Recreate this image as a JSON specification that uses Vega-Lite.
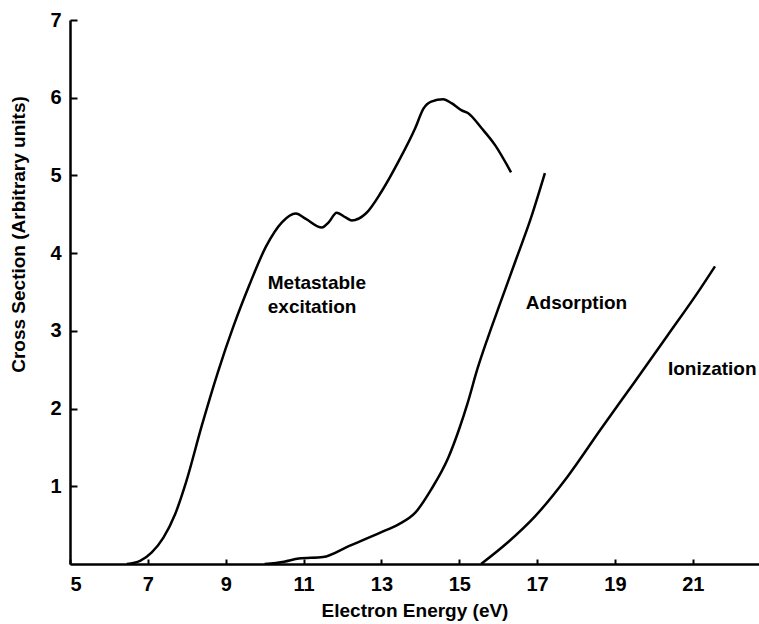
{
  "$schema": "https://vega.github.io/schema/vega-lite/v6.json",
  "width": 689,
  "height": 544,
  "autosize": {"type": "none"},
  "padding": {"left": 70, "top": 20, "right": 0, "bottom": 60},
  "background": "white",
  "config": {
    "view": {"stroke": null},
    "font": "Liberation Sans",
    "axis": {
      "grid": false,
      "domainColor": "black",
      "domainWidth": 2.5,
      "tickColor": "black",
      "tickWidth": 2,
      "labelFont": "Liberation Sans",
      "labelFontSize": 20,
      "labelFontWeight": "bold",
      "labelColor": "black",
      "titleFont": "Liberation Sans",
      "titleFontSize": 19,
      "titleFontWeight": "bold",
      "titleColor": "black"
    }
  },
  "datasets": {
    "curves": [
      {"s": "Metastable", "x": 6.46, "y": 0},
      {"s": "Metastable", "x": 6.8, "y": 0.04},
      {"s": "Metastable", "x": 7.1, "y": 0.15},
      {"s": "Metastable", "x": 7.4, "y": 0.34},
      {"s": "Metastable", "x": 7.7, "y": 0.64},
      {"s": "Metastable", "x": 7.98, "y": 1.05},
      {"s": "Metastable", "x": 8.38, "y": 1.77},
      {"s": "Metastable", "x": 8.8, "y": 2.47},
      {"s": "Metastable", "x": 9.2, "y": 3.06},
      {"s": "Metastable", "x": 9.6, "y": 3.58},
      {"s": "Metastable", "x": 10.03, "y": 4.08},
      {"s": "Metastable", "x": 10.45, "y": 4.4},
      {"s": "Metastable", "x": 10.8, "y": 4.51},
      {"s": "Metastable", "x": 11.06, "y": 4.44},
      {"s": "Metastable", "x": 11.47, "y": 4.33},
      {"s": "Metastable", "x": 11.65, "y": 4.4},
      {"s": "Metastable", "x": 11.85, "y": 4.52},
      {"s": "Metastable", "x": 12.08, "y": 4.46},
      {"s": "Metastable", "x": 12.24, "y": 4.42},
      {"s": "Metastable", "x": 12.6, "y": 4.51},
      {"s": "Metastable", "x": 13.0, "y": 4.79},
      {"s": "Metastable", "x": 13.44, "y": 5.18},
      {"s": "Metastable", "x": 13.87, "y": 5.61},
      {"s": "Metastable", "x": 14.08, "y": 5.86},
      {"s": "Metastable", "x": 14.28, "y": 5.95},
      {"s": "Metastable", "x": 14.59, "y": 5.98},
      {"s": "Metastable", "x": 14.8, "y": 5.93},
      {"s": "Metastable", "x": 15.05, "y": 5.84},
      {"s": "Metastable", "x": 15.23, "y": 5.8},
      {"s": "Metastable", "x": 15.57, "y": 5.61},
      {"s": "Metastable", "x": 15.92, "y": 5.39},
      {"s": "Metastable", "x": 16.33, "y": 5.04},
      {"s": "Adsorption", "x": 10.0, "y": 0},
      {"s": "Adsorption", "x": 10.5, "y": 0.03},
      {"s": "Adsorption", "x": 10.88, "y": 0.07},
      {"s": "Adsorption", "x": 11.5, "y": 0.09},
      {"s": "Adsorption", "x": 12.16, "y": 0.23},
      {"s": "Adsorption", "x": 13.0, "y": 0.41},
      {"s": "Adsorption", "x": 13.44, "y": 0.51},
      {"s": "Adsorption", "x": 13.87, "y": 0.66},
      {"s": "Adsorption", "x": 14.28, "y": 0.96},
      {"s": "Adsorption", "x": 14.72, "y": 1.37},
      {"s": "Adsorption", "x": 15.0, "y": 1.74},
      {"s": "Adsorption", "x": 15.22, "y": 2.08},
      {"s": "Adsorption", "x": 15.46, "y": 2.5},
      {"s": "Adsorption", "x": 15.74, "y": 2.92},
      {"s": "Adsorption", "x": 16.04, "y": 3.34},
      {"s": "Adsorption", "x": 16.43, "y": 3.88},
      {"s": "Adsorption", "x": 16.84, "y": 4.45},
      {"s": "Adsorption", "x": 17.2, "y": 5.03},
      {"s": "Ionization", "x": 15.56, "y": 0},
      {"s": "Ionization", "x": 16.25, "y": 0.28},
      {"s": "Ionization", "x": 16.94, "y": 0.61},
      {"s": "Ionization", "x": 17.79, "y": 1.13},
      {"s": "Ionization", "x": 18.63, "y": 1.73},
      {"s": "Ionization", "x": 19.5, "y": 2.34},
      {"s": "Ionization", "x": 20.35, "y": 2.94},
      {"s": "Ionization", "x": 21.19, "y": 3.54},
      {"s": "Ionization", "x": 21.57, "y": 3.83}
    ],
    "labels": [
      {"text": "Metastable", "x": 10.08, "y": 3.62},
      {"text": "excitation", "x": 10.08, "y": 3.31},
      {"text": "Adsorption", "x": 16.71, "y": 3.36},
      {"text": "Ionization", "x": 20.36, "y": 2.51}
    ]
  },
  "layer": [
    {
      "data": {"name": "curves"},
      "mark": {"type": "line", "color": "black", "strokeWidth": 2.5, "interpolate": "monotone", "clip": true},
      "encoding": {
        "x": {
          "field": "x", "type": "quantitative",
          "scale": {"domain": [5, 22.7], "nice": false, "zero": false},
          "axis": {
            "title": "Electron Energy (eV)",
            "values": [5, 7, 9, 11, 13, 15, 17, 19, 21],
            "format": "d",
            "tickSize": -5,
            "labelPadding": 15,
            "titleY": 52,
            "titleBaseline": "alphabetic"
          }
        },
        "y": {
          "field": "y", "type": "quantitative",
          "scale": {"domain": [0, 7], "nice": false},
          "axis": {
            "title": "Cross Section (Arbitrary units)",
            "values": [1, 2, 3, 4, 5, 6, 7],
            "format": "d",
            "tickSize": -7,
            "labelPadding": 16,
            "titleX": -52,
            "titleY": 214,
            "titleBaseline": "middle"
          }
        },
        "detail": {"field": "s", "type": "nominal"}
      }
    },
    {
      "data": {"name": "labels"},
      "mark": {"type": "text", "align": "left", "baseline": "middle", "font": "Liberation Sans", "fontSize": 19, "fontWeight": "bold", "color": "black"},
      "encoding": {
        "x": {"field": "x", "type": "quantitative"},
        "y": {"field": "y", "type": "quantitative"},
        "text": {"field": "text", "type": "nominal"}
      }
    }
  ]
}
